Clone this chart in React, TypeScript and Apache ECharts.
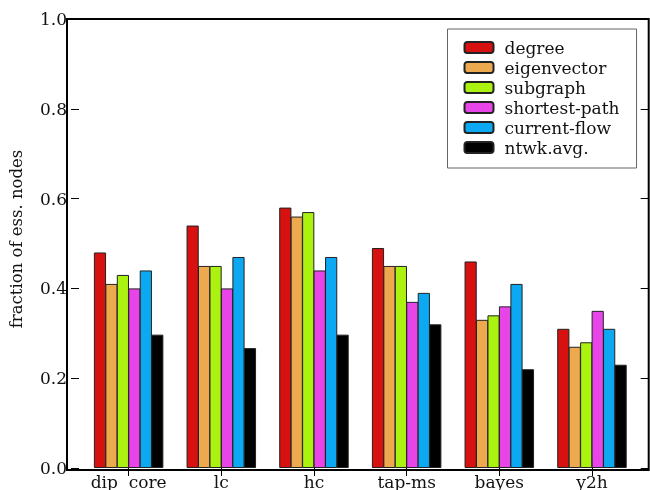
import React, { useEffect, useRef } from "react";
import * as echarts from "echarts";

const categories = ["dip  core", "lc", "hc", "tap-ms", "bayes", "y2h"];
const seriesNames = ["degree", "eigenvector", "subgraph", "shortest-path", "current-flow", "ntwk.avg."];
const degree = [0.48, 0.54, 0.58, 0.49, 0.46, 0.31];
const eigenvector = [0.41, 0.45, 0.56, 0.45, 0.33, 0.27];
const subgraph = [0.43, 0.45, 0.57, 0.45, 0.34, 0.28];
const shortestPath = [0.40, 0.40, 0.44, 0.37, 0.36, 0.35];
const currentFlow = [0.44, 0.47, 0.47, 0.39, 0.41, 0.31];
const ntwkAvg = [0.297, 0.267, 0.297, 0.32, 0.22, 0.23];
const colors = ["#d71010", "#eda94e", "#abf210", "#e845e8", "#0ca9f2", "#000000"];
const yTicks = [0, 0.2, 0.4, 0.6, 0.8, 1.0];

const FONT = "DejaVu Serif";

export default function App() {
  const ref = useRef<HTMLDivElement>(null);
  useEffect(() => {
    if (!ref.current) return;
    const chart = echarts.init(ref.current, null, { renderer: "svg" });
    const values = [degree, eigenvector, subgraph, shortestPath, currentFlow, ntwkAvg];
    const gridLeft = 78.3;
    const gridRight = 11.7;
    const axisLeftX = 67;
    const axisRightX = 648.7;
    const top = 19;
    const bottom = 470;
    chart.setOption({
      animation: false,
      textStyle: { fontFamily: FONT },
      grid: { left: gridLeft, right: gridRight, top: top, bottom: 490 - bottom, containLabel: false },
      legend: {
        orient: "vertical",
        left: 447.5,
        top: 29,
        data: seriesNames,
        itemWidth: 29,
        itemHeight: 11,
        itemGap: 3,
        padding: [10, 17, 12, 16],
        backgroundColor: "#fff",
        borderColor: "#666",
        borderWidth: 1,
        borderRadius: 0,
        textStyle: { fontFamily: FONT, fontSize: 17, color: "#111", lineHeight: 17, padding: [0, 0, 0, 6] },
        z: 20,
      },
      xAxis: [
        {
          type: "category",
          data: categories,
          axisLine: { show: false },
          axisTick: { show: true, inside: true, length: 7, alignWithLabel: true, interval: 0, lineStyle: { color: "#000" } },
          axisLabel: { fontFamily: FONT, fontSize: 17, color: "#111", margin: 5, interval: 0 },
          splitLine: { show: false },
        },
        {
          type: "category",
          data: categories,
          position: "top",
          axisLine: { show: false },
          axisTick: { show: true, inside: true, length: 8, alignWithLabel: true, interval: 0, lineStyle: { color: "#000" } },
          axisLabel: { show: false },
        },
      ],
      yAxis: [
        {
          type: "value",
          min: 0,
          max: 1,
          interval: 0.2,
          offset: gridLeft - axisLeftX,
          axisLine: { show: false },
          axisTick: { show: true, inside: true, length: 8, lineStyle: { color: "#000" } },
          axisLabel: {
            fontFamily: FONT,
            fontSize: 17,
            color: "#111",
            margin: 4,
            formatter: (v: number) => (yTicks.some((t) => Math.abs(t - v) < 1e-9) ? v.toFixed(1) : ""),
          },
          splitLine: { show: false },
          name: "fraction of ess. nodes",
          nameLocation: "middle",
          nameRotate: 90,
          nameGap: 46,
          nameTextStyle: { fontFamily: FONT, fontSize: 16.5, color: "#111", padding: [0, 0, 0, 9] },
        },
        {
          type: "value",
          min: 0,
          max: 1,
          interval: 0.2,
          position: "right",
          offset: axisRightX - (650 - gridRight),
          axisLine: { show: false },
          axisTick: { show: true, inside: true, length: 8, lineStyle: { color: "#000" } },
          axisLabel: { show: false },
          splitLine: { show: false },
        },
      ],
      series: seriesNames.map((name, i) => ({
        name,
        type: "bar",
        data: values[i],
        barGap: "-6%",
        barCategoryGap: "25%",
        itemStyle: { color: colors[i], borderColor: "#222", borderWidth: 1 },
      })),
      graphic: [
        {
          type: "rect",
          z: 50,
          shape: { x: axisLeftX, y: top, width: axisRightX - axisLeftX, height: bottom - top },
          style: { fill: "none", stroke: "#000", lineWidth: 2 },
          silent: true,
        },
      ],
    });
    return () => chart.dispose();
  }, []);
  return <div ref={ref} style={{ position: "fixed", left: 0, top: 0, width: 650, height: 490 }} />;
}
